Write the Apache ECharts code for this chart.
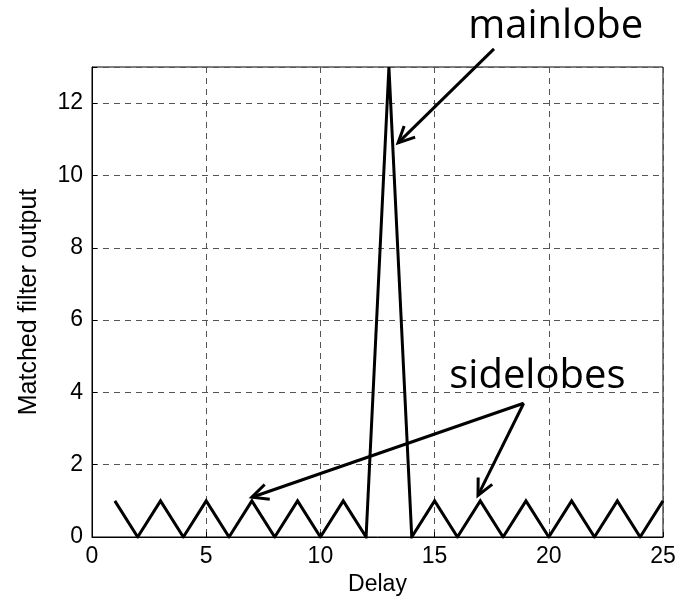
<!DOCTYPE html>
<html>
<head>
<meta charset="utf-8">
<script src="https://cdn.jsdelivr.net/npm/echarts@6/dist/echarts.min.js"></script>
<style>
  html, body { margin: 0; padding: 0; background: #fff; }
  #main { width: 681px; height: 601px; }
</style>
</head>
<body>
<div id="main"></div>
<script>
// delay axis and the matched filter output (Barker 13 autocorrelation)
var delays = [1, 2, 3, 4, 5, 6, 7, 8, 9, 10, 11, 12, 13, 14, 15, 16, 17, 18, 19, 20, 21, 22, 23, 24, 25];
var output = [1, 0, 1, 0, 1, 0, 1, 0, 1, 0, 1, 0, 13, 0, 1, 0, 1, 0, 1, 0, 1, 0, 1, 0, 1];
var xTicks = [0, 5, 10, 15, 20, 25];
var yTicks = [0, 2, 4, 6, 8, 10, 12];

// annotations: arrow start/end in data units
var mainlobeArrow = { from: [17.6, 13.5], to: [13.4, 10.9] };
var sidelobeArrows = [
  { from: [18.9, 3.7], to: [7.0, 1.1] },
  { from: [18.9, 3.7], to: [16.9, 1.15] }
];

var chart = echarts.init(document.getElementById('main'));

var pts = delays.map(function (d, i) { return [d, output[i]]; });

var option = {
  animation: false,
  grid: {
    left: 92, right: 18, top: 67, bottom: 64,
    show: true, borderColor: '#000', borderWidth: 1, backgroundColor: 'transparent'
  },
  xAxis: {
    type: 'value', min: 0, max: 25, interval: 5,
    name: 'Delay', nameLocation: 'middle', nameGap: 32,
    nameTextStyle: { fontFamily: 'Liberation Sans', fontSize: 23, color: '#000' },
    axisLine: { lineStyle: { color: '#000' } },
    axisTick: { inside: true, length: 5, lineStyle: { color: '#000' } },
    axisLabel: {
      fontFamily: 'Liberation Sans', fontSize: 23, color: '#000', margin: 8,
      formatter: function (v) { return xTicks.indexOf(v) >= 0 ? String(v) : ''; }
    },
    splitLine: { lineStyle: { color: '#555', type: [6, 5], width: 1 } }
  },
  yAxis: {
    type: 'value', min: 0, max: 13, interval: 2,
    name: 'Matched filter output', nameLocation: 'middle', nameGap: 50,
    nameTextStyle: { fontFamily: 'Liberation Sans', fontSize: 25, color: '#000' },
    axisLine: { lineStyle: { color: '#000' } },
    axisTick: { inside: true, length: 5, lineStyle: { color: '#000' } },
    axisLabel: {
      fontFamily: 'Liberation Sans', fontSize: 23, color: '#000', margin: 9,
      formatter: function (v) { return yTicks.indexOf(v) >= 0 ? String(v) : ''; }
    },
    splitLine: { lineStyle: { color: '#555', type: [6, 5], width: 1 } }
  },
  series: [{
    type: 'line',
    data: pts,
    symbol: 'none',
    lineStyle: { color: '#000', width: 3, join: 'miter' },
    z: 5
  }]
};
chart.setOption(option);

// arrows drawn from data coords converted to pixels
function arrow(a) {
  var p0 = chart.convertToPixel({ gridIndex: 0 }, a.from);
  var p1 = chart.convertToPixel({ gridIndex: 0 }, a.to);
  var ang = Math.atan2(p1[1] - p0[1], p1[0] - p0[0]);
  var L = 18, spread = 0.45;
  var h1 = [p1[0] - L * Math.cos(ang - spread), p1[1] - L * Math.sin(ang - spread)];
  var h2 = [p1[0] - L * Math.cos(ang + spread), p1[1] - L * Math.sin(ang + spread)];
  return [
    { type: 'line', shape: { x1: p0[0], y1: p0[1], x2: p1[0], y2: p1[1] },
      style: { stroke: '#000', lineWidth: 3 }, z: 10 },
    { type: 'polyline', shape: { points: [h1, p1, h2] },
      style: { stroke: '#000', lineWidth: 3, fill: null }, z: 10 }
  ];
}

var els = [];
els = els.concat(arrow(mainlobeArrow));
sidelobeArrows.forEach(function (a) { els = els.concat(arrow(a)); });

var mPos = chart.convertToPixel({ gridIndex: 0 }, [20.3, 13.5]);
var sPos = chart.convertToPixel({ gridIndex: 0 }, [19.5, 4.1]);
els.push({
  type: 'text', x: mPos[0], y: 7, z: 11,
  style: { text: 'mainlobe', fontFamily: 'Open Sans', fontSize: 40, fill: '#000',
           align: 'center', verticalAlign: 'top' }
});
els.push({
  type: 'text', x: sPos[0], y: 357, z: 11,
  style: { text: 'sidelobes', fontFamily: 'Open Sans', fontSize: 40, fill: '#000',
           align: 'center', verticalAlign: 'top' }
});
chart.setOption({ graphic: { elements: els } });
</script>
</body>
</html>
